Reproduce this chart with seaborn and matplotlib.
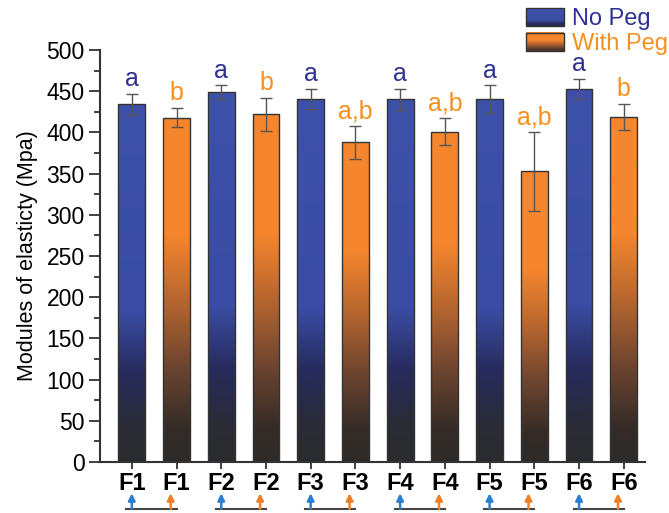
import numpy as np
import pandas as pd
import matplotlib
matplotlib.use('Agg')
import matplotlib.pyplot as plt
import seaborn as sns
from matplotlib.colors import LinearSegmentedColormap
from matplotlib.patches import Rectangle, Patch
from matplotlib.legend_handler import HandlerBase
import matplotlib.transforms as mtransforms

# data
formulations = ['F1', 'F2', 'F3', 'F4', 'F5', 'F6']
no_peg = [434, 449, 441, 440, 440, 453]
no_peg_err = [13, 8, 12, 13, 17, 12]
with_peg = [418, 422, 388, 401, 353, 419]
with_peg_err = [12, 20, 20, 16, 48, 16]
no_peg_letters = ['a', 'a', 'a', 'a', 'a', 'a']
with_peg_letters = ['b', 'b', 'a,b', 'a,b', 'a,b', 'b']

blue = '#3e51aa'
orange = '#f5862e'
blue_txt = '#2e3192'
orange_txt = '#f7901e'

rows = []
for i, f in enumerate(formulations):
    rows.append({'bar': f + '_no', 'label': f, 'group': 'No Peg', 'value': no_peg[i],
                 'err': no_peg_err[i], 'letter': no_peg_letters[i]})
    rows.append({'bar': f + '_with', 'label': f, 'group': 'With Peg', 'value': with_peg[i],
                 'err': with_peg_err[i], 'letter': with_peg_letters[i]})
df = pd.DataFrame(rows)

plt.rcParams['font.family'] = ['Liberation Sans', 'DejaVu Sans']

fig = plt.figure(figsize=(6.69, 5.13), dpi=100)
ax = fig.add_axes([0.1495, 0.0995, 0.815, 0.803])

sns.barplot(data=df, x='bar', y='value', hue='group', dodge=False,
            palette={'No Peg': blue, 'With Peg': orange}, width=0.6,
            edgecolor='#333333', linewidth=1.0, legend=False, ax=ax)

# vertical gradients: dark at the base, full colour towards the top
cmaps = {
    'No Peg': LinearSegmentedColormap.from_list(
        'gb', [(0, '#2b2b2d'), (0.1, '#2a2b36'), (0.25, '#272b5c'),
               (0.42, '#3a4ca3'), (1, blue)]),
    'With Peg': LinearSegmentedColormap.from_list(
        'go', [(0, '#2d2b2a'), (0.1, '#352c27'), (0.28, '#6e4530'),
               (0.45, '#b0632f'), (0.66, orange), (1, orange)]),
}
grad = np.linspace(0, 1, 256).reshape(-1, 1)

# gradient fill, clipped to each bar (patch order follows hue, so match by position)
for patch in list(ax.patches):
    h = patch.get_height()
    if np.isnan(h) or h == 0:
        continue
    x0 = patch.get_x()
    w = patch.get_width()
    idx = int(round(x0 + w / 2))
    grp = df['group'].iloc[idx]
    im = ax.imshow(grad, extent=[x0, x0 + w, 0, h], origin='lower', aspect='auto',
                   cmap=cmaps[grp], zorder=patch.get_zorder() + 0.1)
    im.set_clip_path(patch)
    patch.set_facecolor('none')
    patch.set_zorder(patch.get_zorder() + 0.2)

xs = np.arange(len(df))
ax.errorbar(xs, df['value'], yerr=df['err'], fmt='none', ecolor='#555555',
            elinewidth=1.0, capsize=4, capthick=1.0, zorder=5)

for x, (_, r) in zip(xs, df.iterrows()):
    col = blue_txt if r['group'] == 'No Peg' else orange_txt
    ax.text(x, r['value'] + r['err'] + 3, r['letter'], ha='center', va='bottom',
            fontsize=18, color=col)

ax.set_xlim(-0.71, len(df) - 0.52)
ax.set_ylim(0, 500)
ax.set_yticks(np.arange(0, 501, 50))
ax.set_yticks(np.arange(0, 501, 25), minor=True)
ax.set_xticks(xs)
ax.set_xticklabels(df['label'], fontsize=17, fontweight='bold')
ax.tick_params(axis='y', labelsize=16.5, length=8, width=1.3, color='#333333', pad=3)
ax.tick_params(axis='y', which='minor', length=4.5, width=1.3, color='#333333')
ax.tick_params(axis='x', length=5, width=1.3, color='#333333', pad=2)
ax.set_xlabel('')
ax.set_ylabel('Modules of elasticty (Mpa)', fontsize=15.5, labelpad=6)
for s in ['top', 'right']:
    ax.spines[s].set_visible(False)
for s in ['left', 'bottom']:
    ax.spines[s].set_color('#333333')
    ax.spines[s].set_linewidth(1.5)

# paired arrows under the ticks
trans = mtransforms.blended_transform_factory(ax.transData, ax.transAxes)
for i in range(len(formulations)):
    xa, xb = 2 * i, 2 * i + 1
    ax.plot([xa - 0.12, xb], [-0.114, -0.114], transform=trans, color='#444444',
            lw=1.5, clip_on=False)
    for xx, c in [(xa, '#2a7fd0'), (xb - 0.13, '#f07f2a')]:
        ax.annotate('', xy=(xx, -0.076), xytext=(xx, -0.114), xycoords=trans,
                    textcoords=trans,
                    arrowprops=dict(arrowstyle='-|>', color=c, lw=1.8,
                                    mutation_scale=10, shrinkA=0, shrinkB=0))


class GradHandler(HandlerBase):
    def __init__(self, cmap):
        super().__init__()
        self.cmap = cmap

    def create_artists(self, legend, orig_handle, xdescent, ydescent, width, height,
                       fontsize, trans):
        arts = []
        n = 24
        for k in range(n):
            arts.append(Rectangle((-xdescent, -ydescent + k * height / n), width,
                                  height / n + 0.3,
                                  facecolor=self.cmap(0.15 + 0.85 * k / (n - 1)),
                                  edgecolor='none', transform=trans))
        arts.append(Rectangle((-xdescent, -ydescent), width, height, facecolor='none',
                              edgecolor='#333333', lw=1.0, transform=trans))
        return arts


h_no = Patch(facecolor=blue)
h_with = Patch(facecolor=orange)
leg = fig.legend([h_no, h_with], ['No Peg', 'With Peg'],
                 handler_map={h_no: GradHandler(cmaps['No Peg']),
                              h_with: GradHandler(cmaps['With Peg'])},
                 loc='upper right', bbox_to_anchor=(1.02, 1.012), frameon=False,
                 fontsize=17, handlelength=1.6, handleheight=0.8,
                 labelspacing=0.1, handletextpad=0.35, borderaxespad=0.2)
leg.get_texts()[0].set_color(blue_txt)
leg.get_texts()[1].set_color(orange_txt)

plt.savefig('out.png', dpi=100)
